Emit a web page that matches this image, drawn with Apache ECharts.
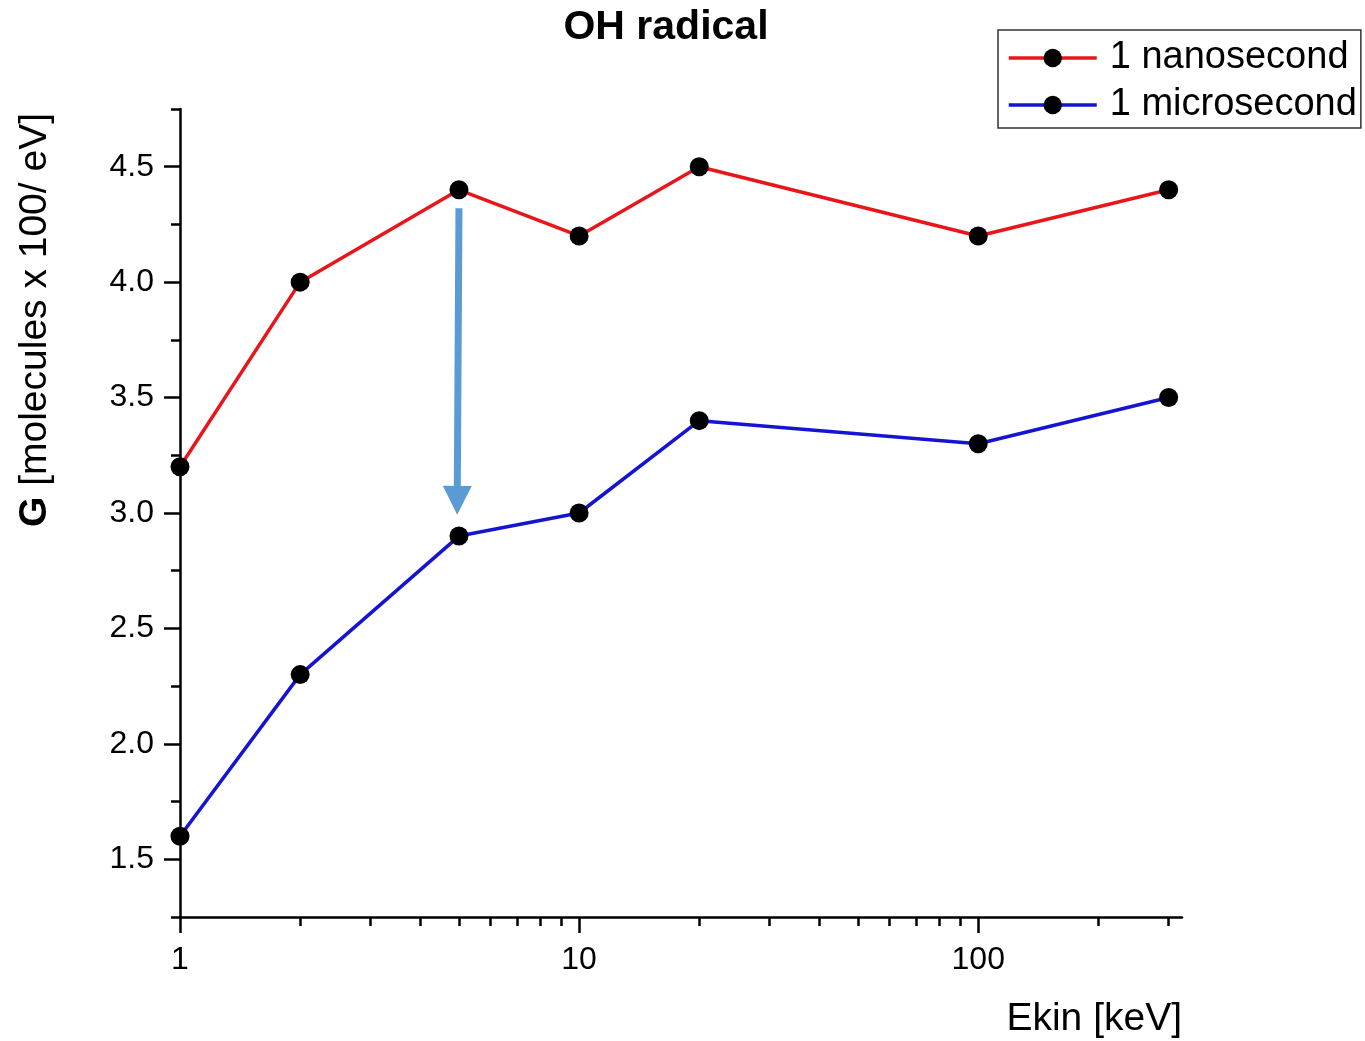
<!DOCTYPE html>
<html>
<head>
<meta charset="utf-8">
<title>OH radical</title>
<script src="https://cdn.jsdelivr.net/npm/echarts@6/dist/echarts.min.js"></script>
<style>
  html, body { margin: 0; padding: 0; background: #fff; }
  #chart { width: 1365px; height: 1041px; }
</style>
</head>
<body>
<div id="chart"></div>
<script>
// Kinetic energy of the primary electrons [keV]
var energies = [1, 2, 5, 10, 20, 100, 300];
// G-value of OH radicals [molecules / 100 eV]
var gNanosecond = [3.2, 4.0, 4.4, 4.2, 4.5, 4.2, 4.4];
var gMicrosecond = [1.6, 2.3, 2.9, 3.0, 3.4, 3.3, 3.5];
var seriesNames = ['1 nanosecond', '1 microsecond'];

// Axis ticks
var xMajorTicks = [1, 10, 100];
var xMinorTicks = [2, 3, 4, 5, 6, 7, 8, 9, 20, 30, 40, 50, 60, 70, 80, 90, 200, 300];
var yMajorTicks = [1.5, 2.0, 2.5, 3.0, 3.5, 4.0, 4.5];

// Decay arrow at 5 keV: from just below the 1 ns point down to the 1 µs level
var arrowFrom = [5, 4.32];
var arrowTo = [4.95, 3.055];

function pairs(xs, ys) {
  return xs.map(function (x, i) { return [x, ys[i]]; });
}

var FONT = '"Liberation Sans", Arial, sans-serif';
var X_MIN = 1, X_MAX = 324, Y_MIN = 1.25, Y_MAX = 4.75;

var chart = echarts.init(document.getElementById('chart'), null, { renderer: 'canvas' });

var axisLine = { show: true, lineStyle: { color: '#000', width: 2.5 } };

chart.setOption({
  backgroundColor: '#fff',
  animation: false,
  textStyle: { fontFamily: FONT, color: '#000' },
  title: {
    text: 'OH radical',
    left: 661,
    top: 2,
    textAlign: 'center',
    textStyle: { fontFamily: FONT, fontSize: 41, fontWeight: 'bold', color: '#000' }
  },
  legend: {
    orient: 'vertical',
    left: 998,
    top: 30,
    padding: [9, 4, 4, 9],
    itemGap: 9,
    itemWidth: 88,
    itemHeight: 23,
    borderColor: '#333',
    borderWidth: 1.5,
    lineStyle: { width: 3.5 },
    data: seriesNames,
    textStyle: { fontFamily: FONT, fontSize: 38, color: '#000', padding: [0, 0, 0, 8] }
  },
  grid: { left: 180, top: 109, width: 1002, height: 808, containLabel: false },
  xAxis: [
    {
      type: 'log', logBase: 10, min: X_MIN, max: X_MAX,
      position: 'bottom',
      axisLine: axisLine,
      axisTick: { show: true, inside: false, length: 16, customValues: xMajorTicks,
                  lineStyle: { color: '#000', width: 2.5 } },
      axisLabel: { show: true, customValues: xMajorTicks, margin: 27,
                   fontFamily: FONT, fontSize: 32, color: '#000' },
      splitLine: { show: false },
      minorTick: { show: false },
      name: 'Ekin [keV]',
      nameLocation: 'end',
      nameGap: 0,
      nameTextStyle: { fontFamily: FONT, fontSize: 39, color: '#000',
                       align: 'right', verticalAlign: 'top', padding: [83, 0, 0, 0] }
    },
    {
      type: 'log', logBase: 10, min: X_MIN, max: X_MAX,
      position: 'bottom',
      axisLine: { show: false },
      axisTick: { show: true, inside: false, length: 9, customValues: xMinorTicks,
                  lineStyle: { color: '#000', width: 2.5 } },
      axisLabel: { show: false },
      splitLine: { show: false }
    }
  ],
  yAxis: [
    {
      type: 'value', min: Y_MIN, max: Y_MAX, interval: 0.25,
      position: 'left',
      axisLine: axisLine,
      axisTick: { show: true, inside: false, length: 9, lineStyle: { color: '#000', width: 2.5 } },
      axisLabel: { show: false },
      splitLine: { show: false }
    },
    {
      type: 'value', min: Y_MIN, max: Y_MAX,
      position: 'left',
      axisLine: { show: false },
      axisTick: { show: true, inside: false, length: 16, customValues: yMajorTicks,
                  lineStyle: { color: '#000', width: 2.5 } },
      axisLabel: { show: true, customValues: yMajorTicks, margin: 26,
                   fontFamily: FONT, fontSize: 32, color: '#000',
                   formatter: function (v) { return v.toFixed(1); } },
      splitLine: { show: false }
    }
  ],
  graphic: [
    {
      type: 'text',
      x: 35,
      y: 320,
      rotation: Math.PI / 2,
      style: {
        text: '{b|G} [molecules x 100/ eV]',
        rich: {
          b: { fontFamily: FONT, fontSize: 39, fontWeight: 'bold', fill: '#000' }
        },
        fontFamily: FONT,
        fontSize: 39,
        fill: '#000',
        align: 'center',
        verticalAlign: 'middle'
      }
    }
  ],
  series: [
    {
      name: seriesNames[0],
      type: 'line',
      xAxisIndex: 0, yAxisIndex: 0,
      data: pairs(energies, gNanosecond),
      symbol: 'circle',
      symbolSize: 19,
      lineStyle: { color: '#e8161b', width: 3.5 },
      itemStyle: { color: '#000' },
      z: 3
    },
    {
      name: seriesNames[1],
      type: 'line',
      xAxisIndex: 0, yAxisIndex: 0,
      data: pairs(energies, gMicrosecond),
      symbol: 'circle',
      symbolSize: 19,
      lineStyle: { color: '#1414d2', width: 3.5 },
      itemStyle: { color: '#000' },
      z: 3,
      markLine: {
        silent: true,
        symbol: ['none', 'triangle'],
        symbolSize: 29,
        label: { show: false },
        lineStyle: { color: '#5b9bd5', width: 7, type: 'solid' },
        data: [[{ coord: arrowFrom }, { coord: arrowTo }]]
      }
    }
  ]
});
</script>
</body>
</html>
